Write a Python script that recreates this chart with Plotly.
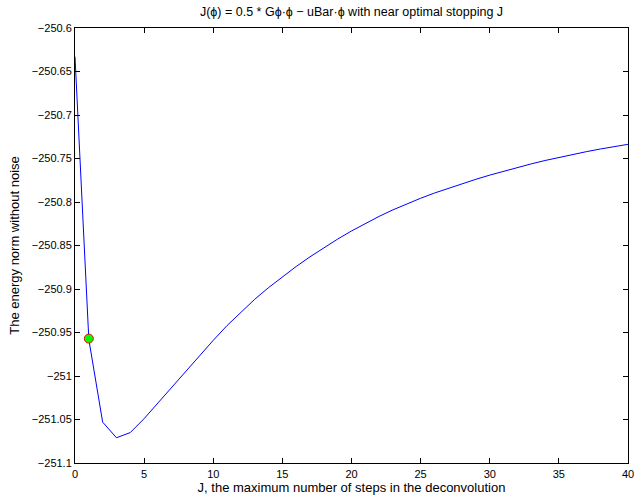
import plotly.graph_objects as go

J = list(range(0, 41))
energy = [-250.633, -250.958, -251.053, -251.071, -251.065, -251.049, -251.031, -251.0128,
          -250.9946, -250.9766, -250.959, -250.942, -250.9263, -250.9118, -250.8984, -250.8859,
          -250.8741, -250.863, -250.8525, -250.8426, -250.8333, -250.8246, -250.8165, -250.809,
          -250.8021, -250.7957, -250.7897, -250.7842, -250.7789, -250.7739, -250.7691, -250.7646,
          -250.7603, -250.7562, -250.7523, -250.7487, -250.7453, -250.7421, -250.7391, -250.7363,
          -250.7337]
opt_J = [1]
opt_val = [-250.957]

x_ticks = [0, 5, 10, 15, 20, 25, 30, 35, 40]
y_ticks = [-250.6, -250.65, -250.7, -250.75, -250.8, -250.85, -250.9, -250.95, -251, -251.05, -251.1]
y_ticklabels = ["\u2212250.6", "\u2212250.65", "\u2212250.7", "\u2212250.75", "\u2212250.8", "\u2212250.85",
                "\u2212250.9", "\u2212250.95", "\u2212251", "\u2212251.05", "\u2212251.1"]

fig = go.Figure()
fig.add_trace(go.Scatter(x=J, y=energy, mode="lines",
                         line=dict(color="#0000ff", width=1), showlegend=False))
fig.add_trace(go.Scatter(x=opt_J, y=opt_val, mode="markers",
                         marker=dict(color="#00ff00", size=9, line=dict(color="#ff0000", width=1)),
                         showlegend=False))

font = dict(family="Liberation Sans, Arial, sans-serif", size=11, color="black")
fig.update_layout(
    width=638, height=495,
    margin=dict(l=75, r=10, t=28, b=32),
    paper_bgcolor="white", plot_bgcolor="white",
    font=font,
    title=dict(text="J(\u03d5) = 0.5 * G\u03d5\u00b7\u03d5 \u2212 uBar\u00b7\u03d5 with near optimal stopping J",
               x=0.5, xref="paper", y=0.985, yanchor="top", font=dict(size=12.5)),
    xaxis=dict(range=[0, 40], tickvals=x_ticks, ticktext=[str(v) for v in x_ticks],
               ticks="inside", ticklen=5, tickcolor="black", showline=True, linecolor="black",
               linewidth=1, mirror="ticks", showgrid=False, zeroline=False,
               ticklabelstandoff=1, automargin=False,
               title=dict(text="J, the maximum number of steps in the deconvolution", standoff=0)),
    yaxis=dict(range=[-251.1, -250.6], tickvals=y_ticks, ticktext=y_ticklabels,
               ticks="inside", ticklen=5, tickcolor="black", showline=True, linecolor="black",
               linewidth=1, mirror="ticks", showgrid=False, zeroline=False,
               automargin=False,
               title=dict(text="The energy norm without noise", standoff=9)),
)
fig.write_html("out.html")
